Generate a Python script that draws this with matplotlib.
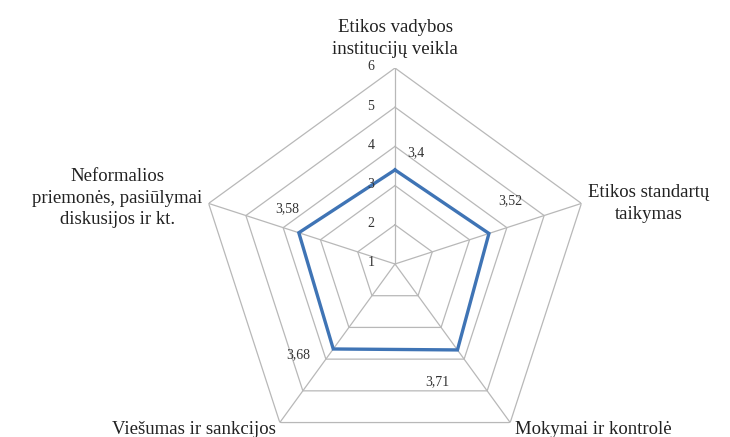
import numpy as np
import matplotlib
matplotlib.use("Agg")
import matplotlib.pyplot as plt

categories = [
    "Etikos vadybos\ninstitucijų veikla",
    "Etikos standartų\ntaikymas",
    "Mokymai ir kontrolė",
    "Viešumas ir sankcijos",
    "Neformalios\npriemonės, pasiūlymai\ndiskusijos ir kt.",
]
values = [3.4, 3.52, 3.71, 3.68, 3.58]
value_labels = ["3,4", "3,52", "3,71", "3,68", "3,58"]
ticks = [1, 2, 3, 4, 5, 6]


def main():
    plt.rcParams["font.family"] = ["Liberation Serif", "DejaVu Serif"]
    fig = plt.figure(figsize=(7.3, 4.37), dpi=100)
    ax = fig.add_axes([0.2726, -0.0526, 0.537, 0.897], projection="polar")
    ax.set_theta_offset(np.pi / 2)
    ax.set_theta_direction(-1)
    ax.set_ylim(1, 6)
    ax.set_axis_off()

    n = len(categories)
    ang = np.arange(n) * 2 * np.pi / n
    ang_c = np.append(ang, ang[0])

    grid_col = "#b8b8b8"
    for t in ticks[1:]:
        ax.plot(ang_c, [t] * (n + 1), color=grid_col, lw=0.9, zorder=1)
    for a in ang:
        ax.plot([a, a], [1, 6], color=grid_col, lw=0.9, zorder=1)

    v = np.append(values, values[0])
    ax.plot(ang_c, v, color="#3f74b5", lw=2.4, zorder=3, solid_joinstyle="miter")

    # tick labels on the top spoke
    for t in ticks:
        ax.annotate(str(t), xy=(0, t), xytext=(-24, 1), textcoords="offset pixels",
                    ha="center", va="center", fontsize=10, color="#333333")

    # value labels
    offs = [(21, 17), (21, 33), (-20, -32), (-35, -6), (-12, 24)]
    for a, val, lab, o in zip(ang, values, value_labels, offs):
        ax.annotate(lab, xy=(a, val), xytext=o, textcoords="offset pixels",
                    ha="center", va="center", fontsize=10, color="#333333")

    # category labels
    cat_pos = [((0, 10), "center", "bottom"),
               ((7, 0), "left", "center"),
               ((5, -7), "left", "center"),
               ((-4, -7), "right", "center"),
               ((-6, 5), "right", "center")]
    for a, lab, (o, ha, va) in zip(ang, categories, cat_pos):
        ax.annotate(lab, xy=(a, 6), xytext=o, textcoords="offset pixels",
                    ha=ha, va=va, multialignment="center", fontsize=13.5,
                    color="#222222", linespacing=1.35)

    fig.savefig("out.png", dpi=100)


if __name__ == "__main__":
    main()
